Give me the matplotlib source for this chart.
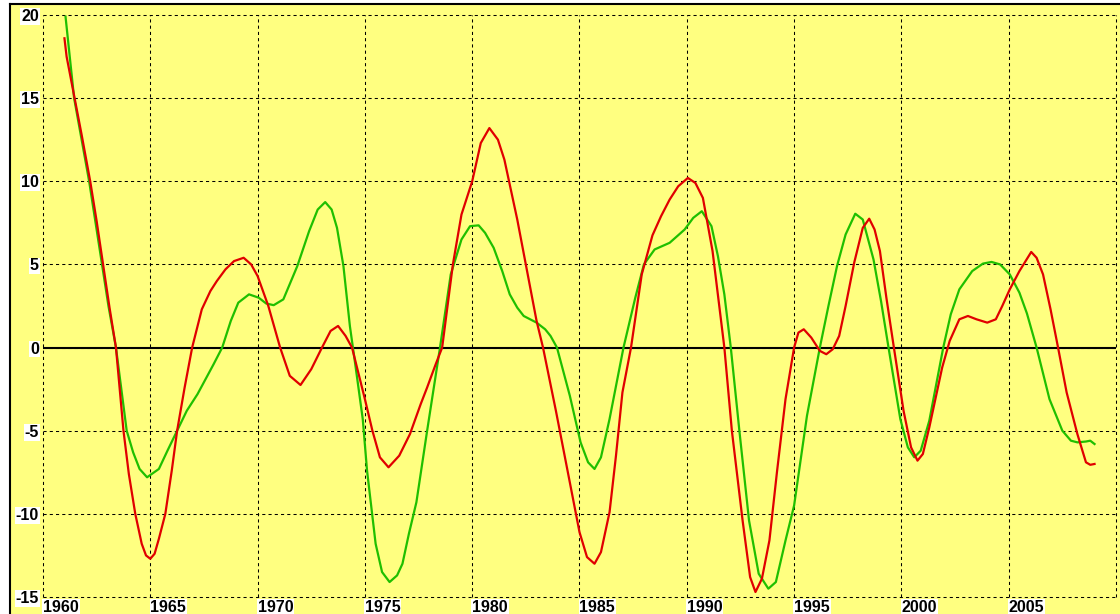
"""
    Deux courbes lissées sur fond jaune (1960 - 2009)
"""

import numpy as np
import matplotlib
matplotlib.use("Agg")
import matplotlib.pyplot as plt

plt.rcParams["axes.unicode_minus"] = False

# Courbe rouge : (année, valeur)
red_years = [1961.0, 1961.1, 1961.4, 1961.8, 1962.2, 1962.5, 1962.8, 1963.1, 1963.4, 1963.75,
             1964.0, 1964.3, 1964.6, 1964.8, 1965.0, 1965.2, 1965.4, 1965.7, 1966.0, 1966.25, 1966.6, 1966.95,
             1967.4, 1967.8, 1968.1, 1968.5, 1968.9, 1969.35, 1969.7, 1970.0, 1970.5, 1971.05,
             1971.5, 1972.0, 1972.5, 1973.0, 1973.4, 1973.75, 1974.1, 1974.4, 1975.0, 1975.35,
             1975.7, 1976.1, 1976.6, 1977.1, 1977.6, 1977.9, 1978.3, 1978.6, 1979.1, 1979.5,
             1980.0, 1980.4, 1980.8, 1981.2, 1981.5, 1982.1, 1982.5, 1983.0, 1983.3, 1983.9,
             1984.55, 1985.0, 1985.35, 1985.7, 1986.0, 1986.4, 1986.7, 1987.0, 1987.4, 1987.9,
             1988.4, 1988.8, 1989.2, 1989.6, 1990.05, 1990.4, 1990.75, 1991.2, 1991.75, 1992.1,
             1992.6, 1992.95, 1993.2, 1993.5, 1993.85, 1994.2, 1994.6, 1995.0, 1995.2, 1995.45,
             1995.8, 1996.2, 1996.5, 1996.8, 1997.1, 1997.4, 1997.8, 1998.2, 1998.5, 1998.75,
             1999.0, 1999.3, 1999.65, 2000.1, 2000.45, 2000.75, 2001.0, 2001.3, 2001.5, 2001.9,
             2002.25, 2002.7, 2003.1, 2003.5, 2004.0, 2004.4, 2004.7, 2005.05, 2005.5, 2006.05,
             2006.3, 2006.6, 2006.95, 2007.3, 2007.7, 2008.2, 2008.6, 2008.8, 2009.0]
red_values = [18.6, 17.5, 15.5, 12.8, 10.0, 7.6, 5.0, 2.4, 0.0, -5.0,
              -7.6, -10.0, -11.8, -12.5, -12.7, -12.4, -11.5, -10.0, -7.4, -5.0, -2.4, 0.0,
              2.3, 3.4, 4.0, 4.7, 5.2, 5.4, 5.0, 4.3, 2.5, 0.0,
              -1.7, -2.25, -1.3, 0.0, 1.0, 1.3, 0.7, 0.0, -3.1, -5.0,
              -6.6, -7.2, -6.5, -5.2, -3.4, -2.4, -1.0, 0.0, 5.0, 8.0,
              10.0, 12.3, 13.2, 12.5, 11.3, 7.7, 5.0, 1.6, 0.0, -3.8,
              -8.1, -11.1, -12.6, -13.0, -12.3, -9.9, -6.5, -2.7, 0.0, 4.4,
              6.75, 7.9, 8.9, 9.7, 10.2, 9.9, 9.0, 5.8, 0.0, -5.0,
              -10.4, -13.8, -14.7, -13.9, -11.6, -7.5, -3.1, 0.0, 0.9, 1.1,
              0.6, -0.2, -0.4, -0.1, 0.7, 2.5, 5.1, 7.2, 7.75, 7.1,
              5.8, 3.0, 0.0, -3.8, -6.0, -6.8, -6.4, -4.8, -3.6, -1.2,
              0.4, 1.7, 1.9, 1.7, 1.5, 1.7, 2.5, 3.5, 4.6, 5.75,
              5.4, 4.4, 2.3, 0.0, -2.7, -5.2, -6.9, -7.05, -7.0]

# Courbe verte
green_years = [1961.05, 1961.45, 1961.8, 1962.15, 1962.45, 1962.75, 1963.05, 1963.4, 1963.9, 1964.2, 1964.5,
               1964.85, 1965.4, 1965.8, 1966.25, 1966.7, 1967.2, 1967.95, 1968.35, 1968.75, 1969.1,
               1969.6, 1970.05, 1970.4, 1970.75, 1971.2, 1971.85, 1972.4, 1972.8, 1973.15, 1973.45,
               1973.7, 1974.0, 1974.3, 1974.55, 1974.9, 1975.1, 1975.5, 1975.8, 1976.15, 1976.5,
               1976.75, 1977.05, 1977.4, 1977.9, 1978.5, 1979.0, 1979.5, 1979.9, 1980.3, 1980.6,
               1981.0, 1981.4, 1981.75, 1982.1, 1982.4, 1983.0, 1983.4, 1983.65, 1983.95, 1984.55,
               1985.05, 1985.4, 1985.7, 1986.0, 1986.4, 1987.05, 1987.6, 1988.0, 1988.5, 1989.2,
               1989.9, 1990.3, 1990.7, 1991.15, 1991.45, 1991.75, 1992.05, 1992.45, 1992.9, 1993.35,
               1993.8, 1994.15, 1994.6, 1995.0, 1995.6, 1996.2, 1996.6, 1997.0, 1997.4, 1997.85,
               1998.2, 1998.7, 1999.05, 1999.4, 1999.95, 2000.3, 2000.6, 2000.9, 2001.3, 2001.95,
               2002.3, 2002.7, 2003.3, 2003.8, 2004.2, 2004.6, 2005.05, 2005.5, 2005.85, 2006.3,
               2006.9, 2007.5, 2007.9, 2008.2, 2008.6, 2008.8, 2009.0]
green_values = [19.9, 15.0, 12.5, 10.0, 7.5, 5.0, 2.5, 0.0, -5.0, -6.3, -7.3,
                -7.8, -7.3, -6.2, -5.0, -3.8, -2.8, -1.0, 0.0, 1.6, 2.7,
                3.2, 3.0, 2.65, 2.55, 2.9, 4.9, 7.0, 8.3, 8.75, 8.3,
                7.2, 4.9, 1.3, -1.0, -4.3, -7.4, -11.8, -13.5, -14.1, -13.7,
                -13.0, -11.2, -9.3, -5.0, 0.0, 4.4, 6.5, 7.3, 7.35, 6.9,
                6.0, 4.6, 3.2, 2.4, 1.9, 1.5, 1.1, 0.7, 0.0, -2.9,
                -5.7, -6.9, -7.3, -6.6, -4.3, 0.0, 3.0, 5.0, 5.9, 6.3,
                7.1, 7.8, 8.2, 7.3, 5.5, 3.2, 0.0, -5.0, -10.4, -13.6,
                -14.5, -14.1, -11.6, -9.5, -4.1, 0.0, 2.5, 4.9, 6.8, 8.05,
                7.7, 5.3, 2.8, 0.0, -4.3, -6.0, -6.6, -6.2, -4.4, 0.0,
                2.0, 3.5, 4.6, 5.05, 5.15, 5.0, 4.4, 3.3, 2.05, 0.0,
                -3.1, -5.0, -5.6, -5.7, -5.65, -5.6, -5.8]

x_ticks = list(range(1960, 2011, 5))
x_labels = [str(a) for a in range(1960, 2010, 5)] + [""]
y_ticks = list(range(-15, 21, 5))

W, H = 1120, 614
JAUNE = "#FFFF80"

fig = plt.figure(figsize=(W / 100, H / 100), dpi=100, facecolor="white")

# panneau jaune avec bord noir à gauche et en haut
fond = fig.add_axes([10 / W, 0, (W - 10) / W, (H - 4) / H])
fond.set_facecolor(JAUNE)
fond.set_xticks([])
fond.set_yticks([])
for cote in ["right", "bottom"]:
    fond.spines[cote].set_visible(False)
for cote in ["left", "top"]:
    fond.spines[cote].set_linewidth(1.5)

# zone de tracé
ax = fig.add_axes([43 / W, (H - 597) / H, (1116 - 43) / W, (597 - 15) / H])
ax.set_facecolor("none")
for s in ax.spines.values():
    s.set_visible(False)
ax.set_xlim(1960, 2010)
ax.set_ylim(-15, 20)
ax.set_xticks(x_ticks)
ax.set_xticklabels(x_labels)
ax.set_yticks(y_ticks)
ax.grid(True, color="black", linestyle=(0, (3, 3)), linewidth=0.75)
for gl in ax.get_xgridlines() + ax.get_ygridlines():
    gl.set_clip_on(False)
ax.tick_params(length=0, labelsize=11.5, pad=3)
ax.tick_params(axis="x", pad=2)

for lab in ax.get_xticklabels() + ax.get_yticklabels():
    lab.set_fontfamily("Liberation Sans")
    lab.set_fontweight("bold")
    lab.set_bbox(dict(facecolor="white", edgecolor="none", pad=0.6))
for lab in ax.get_xticklabels():
    lab.set_horizontalalignment("left")

ax.axhline(0, color="black", linewidth=1.5, zorder=2)
ax.plot(green_years, green_values, color="#1FBF00", linewidth=1.6, zorder=3)
ax.plot(red_years, red_values, color="#E00000", linewidth=1.6, zorder=4)

plt.savefig("out.png", dpi=100, facecolor=fig.get_facecolor())
